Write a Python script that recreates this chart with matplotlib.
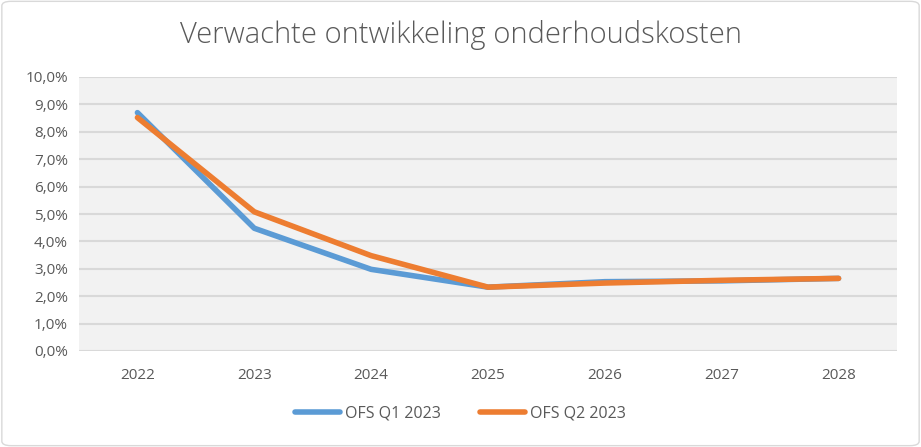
import matplotlib.pyplot as plt
from matplotlib.patches import FancyBboxPatch
from matplotlib.ticker import FuncFormatter

# Data
years = ["2022", "2023", "2024", "2025", "2026", "2027", "2028"]
q1_2023 = [8.70, 4.48, 2.98, 2.33, 2.53, 2.56, 2.65]
q2_2023 = [8.52, 5.08, 3.48, 2.33, 2.48, 2.58, 2.65]
series_names = ["OFS Q1 2023", "OFS Q2 2023"]

plt.rcParams['font.family'] = ['Open Sans', 'DejaVu Sans']
text_col = "#595959"

fig = plt.figure(figsize=(9.21, 4.47), dpi=100)
ax = fig.add_axes([79 / 921, 1 - 351 / 447, (897 - 79) / 921, (351 - 77) / 447])

# rounded border around the chart
fig.patches.append(FancyBboxPatch((0.002, 0.003), 0.996, 0.994, boxstyle="round,pad=0,rounding_size=0.01",
                                  transform=fig.transFigure, fill=False, edgecolor="#d9d9d9", linewidth=1))

x = range(len(years))
ax.set_facecolor("#f2f2f2")
ax.plot(x, q1_2023, color="#5b9bd5", linewidth=4, solid_capstyle="round", label=series_names[0], zorder=3)
ax.plot(x, q2_2023, color="#ed7d31", linewidth=4, solid_capstyle="round", label=series_names[1], zorder=4)

ax.set_xlim(-0.5, len(years) - 0.5)
ax.set_ylim(0, 10)
ax.set_yticks(range(0, 11))
ax.yaxis.set_major_formatter(FuncFormatter(lambda v, p: f"{v:.1f}%".replace(".", ",")))
ax.set_xticks(list(x))
ax.set_xticklabels(years)
ax.grid(axis="y", color="#d9d9d9", linewidth=1.5)
ax.set_axisbelow(True)
for s in ax.spines.values():
    s.set_visible(False)
ax.tick_params(length=0, labelsize=11, labelcolor=text_col, pad=8)
ax.tick_params(axis="x", pad=12)

fig.text(0.5, 1 - 35 / 447, "Verwachte ontwikkeling onderhoudskosten", ha="center", va="center",
         fontsize=21, color=text_col, fontweight="light")

fig.legend(loc="center", bbox_to_anchor=(0.5, 1 - 414 / 447), ncol=2, frameon=False,
           fontsize=11.5, labelcolor=text_col, handlelength=2.8, handletextpad=0.3, columnspacing=2.5)

fig.savefig("out.png", dpi=100)
